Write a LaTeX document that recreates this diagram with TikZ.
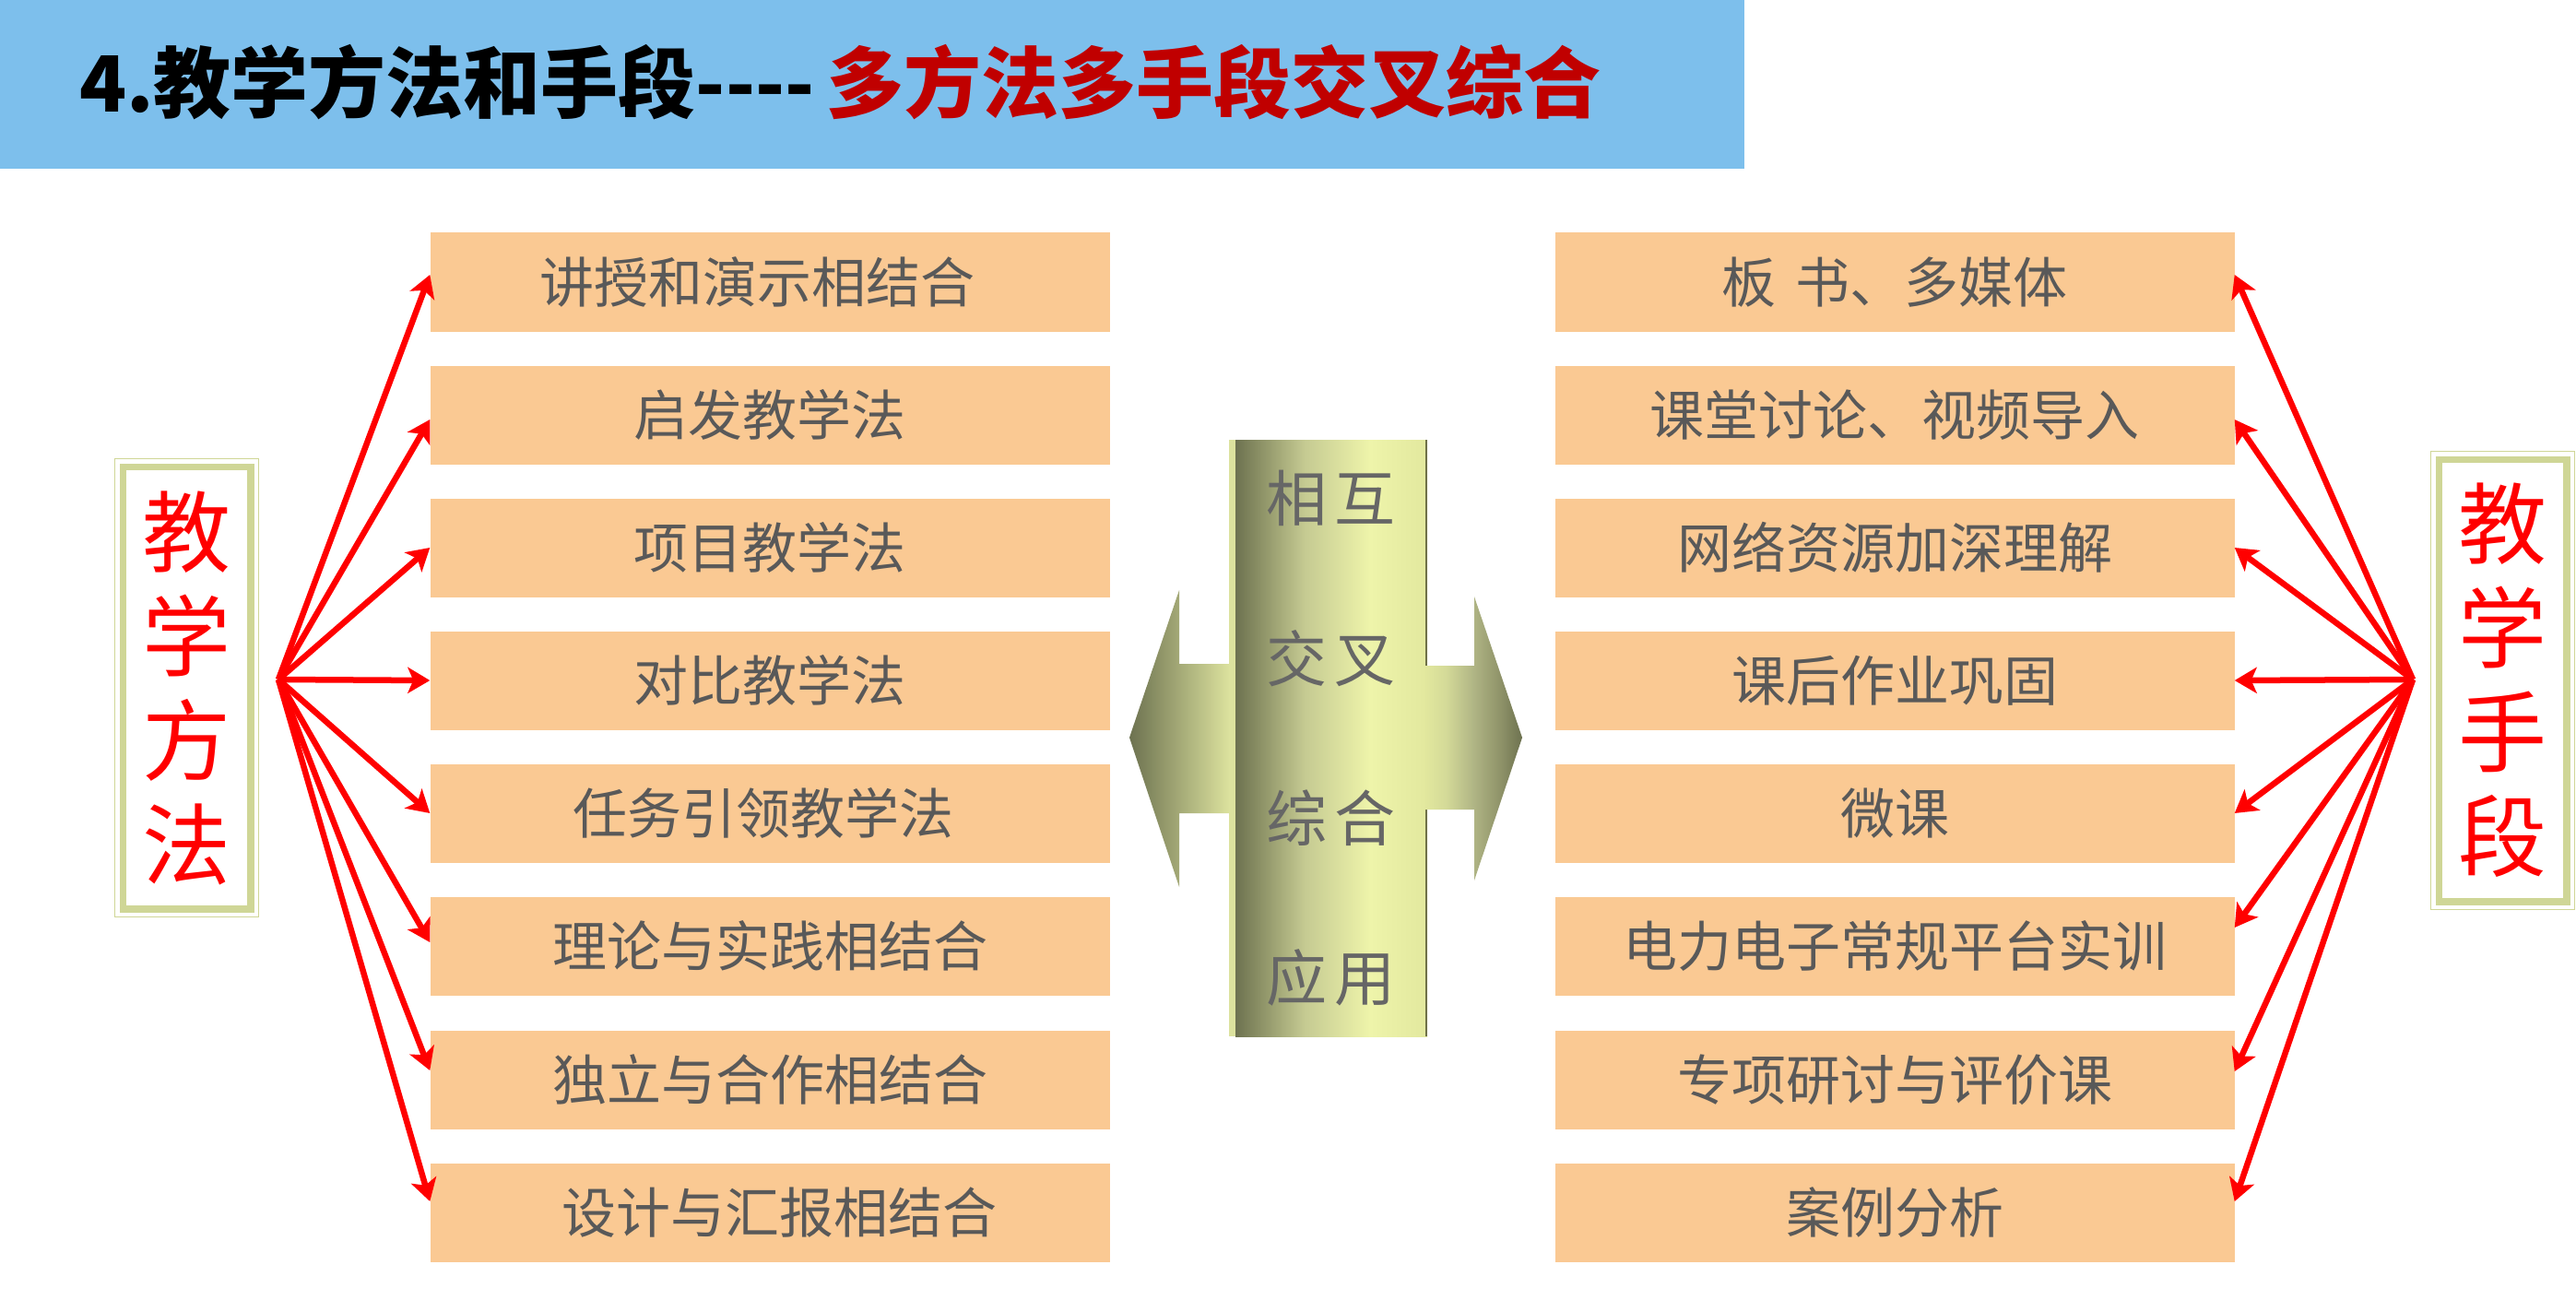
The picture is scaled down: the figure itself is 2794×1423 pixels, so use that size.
\documentclass[tikz,border=0pt]{standalone}
\usepackage{fontspec}
\setmainfont{Noto Sans CJK SC}
\usetikzlibrary{arrows.meta}
\definecolor{titlebar}{HTML}{7DBFEC}
\definecolor{titlered}{HTML}{C00000}
\definecolor{boxfill}{HTML}{FAC993}
\definecolor{boxtext}{HTML}{595959}
\definecolor{framec}{HTML}{CFD696}
\definecolor{oliveD}{HTML}{6D7250}
\definecolor{oliveM}{HTML}{A9AE7E}
\definecolor{oliveA}{HTML}{8F9468}
\definecolor{oliveB}{HTML}{C5CA92}
\definecolor{oliveL}{HTML}{EEF4AA}
\definecolor{oliveR}{HTML}{E2E89E}
\definecolor{oliveS}{HTML}{DCE29E}
\definecolor{oliveC}{HTML}{D4DA98}
\definecolor{oliveE}{HTML}{B0B585}
\definecolor{oliveF}{HTML}{8E9268}
\definecolor{colline}{HTML}{6E7048}
\definecolor{coltext}{HTML}{666666}
\pgfdeclarehorizontalshading{colshade}{100bp}{color(0bp)=(oliveD); color(25bp)=(oliveD); color(32bp)=(oliveA); color(43bp)=(oliveB); color(60bp)=(oliveL); color(75bp)=(oliveR); color(100bp)=(oliveR)}
\pgfdeclarehorizontalshading{rarrshade}{100bp}{color(0bp)=(oliveR); color(25bp)=(oliveR); color(36bp)=(oliveC); color(50bp)=(oliveE); color(64bp)=(oliveF); color(75bp)=(oliveD); color(100bp)=(oliveD)}
\tikzset{
  itembox/.style={fill=boxfill, minimum width=737, minimum height=107, inner sep=0pt,
    text=boxtext, font=\fontsize{59}{70}\selectfont, text height=48pt, text depth=4pt},
  labelbox/.style={draw=framec, line width=1.5, fill=white, minimum width=156, minimum height=497,
    inner sep=0pt, text=red, align=center, font=\fontsize{96}{113}\selectfont},
  fan/.style={draw=red, line width=6.5, -{Stealth[length=24pt,width=28pt,inset=6pt]}},
  coltxt/.style={text=coltext, font=\fontsize{66}{70}\selectfont, inner sep=0pt},
}
\begin{document}
\begin{tikzpicture}[x=1pt,y=-1pt]
\useasboundingbox (0,0) rectangle (2794,1423);
\fill[white] (0,0) rectangle (2794,1423);
% title
\fill[titlebar] (0,0) rectangle (1892,183);
\node[anchor=base west, inner sep=0pt, font=\fontsize{84}{84}\bfseries\selectfont] (T1) at (86,122) {4.教学方法和手段-{}-{}-{}-};
\node[anchor=base west, inner sep=0pt, text=titlered, font=\fontsize{84}{84}\bfseries\selectfont] (T2) at (896,122) {多方法多手段交叉综合};
% left boxes
\node[itembox] (L1) at (835,306) {\hspace*{-28pt}讲授和演示相结合};
\node[itembox] (L2) at (835,450) {启发教学法};
\node[itembox] (L3) at (835,594) {项目教学法};
\node[itembox] (L4) at (835,738) {对比教学法};
\node[itembox] (L5) at (835,882) {\hspace*{-14pt}任务引领教学法};
\node[itembox] (L6) at (835,1026) {理论与实践相结合};
\node[itembox] (L7) at (835,1171) {独立与合作相结合};
\node[itembox] (L8) at (835,1315) {\hspace*{20pt}设计与汇报相结合};
% right boxes
\node[itembox] (R1) at (2055,306) {板\hspace{21pt}书、多媒体};
\node[itembox] (R2) at (2055,450) {课堂讨论、视频导入};
\node[itembox] (R3) at (2055,594) {网络资源加深理解};
\node[itembox] (R4) at (2055,738) {课后作业巩固};
\node[itembox] (R5) at (2055,882) {微课};
\node[itembox] (R6) at (2055,1026) {电力电子常规平台实训};
\node[itembox] (R7) at (2055,1171) {专项研讨与评价课};
\node[itembox] (R8) at (2055,1315) {案例分析};
% label boxes
\node[labelbox] (LM) at (202.5,746) {教\\学\\方\\法};
\draw[framec, line width=7.5] ([shift={(9.5,9.5)}]LM.north west) rectangle ([shift={(-9.5,-9.5)}]LM.south east);
\node[labelbox] (RM) at (2714.5,738) {教\\学\\手\\段};
\draw[framec, line width=7.5] ([shift={(9.5,9.5)}]RM.north west) rectangle ([shift={(-9.5,-9.5)}]RM.south east);
% fans
\coordinate (LF) at (302,737);
\coordinate (RF) at (2617,737);
\draw[fan] (LF) -- ([yshift=8pt]L1.west);
\draw[fan] (LF) -- ([yshift=-5pt]L2.west);
\draw[fan] (LF) -- (L3.west);
\draw[fan] (LF) -- (L4.west);
\draw[fan] (LF) -- (L5.west);
\draw[fan] (LF) -- ([yshift=4pt]L6.west);
\draw[fan] (LF) -- ([yshift=10pt]L7.west);
\draw[fan] (LF) -- ([yshift=12pt]L8.west);
\draw[fan] (RF) -- ([yshift=8pt]R1.east);
\draw[fan] (RF) -- ([yshift=-5pt]R2.east);
\draw[fan] (RF) -- (R3.east);
\draw[fan] (RF) -- (R4.east);
\draw[fan] (RF) -- (R5.east);
\draw[fan] (RF) -- ([yshift=20pt]R6.east);
\draw[fan] (RF) -- ([yshift=9pt]R7.east);
\draw[fan] (RF) -- ([yshift=12pt]R8.east);
% centre double arrow and column
\shade[left color=oliveD, middle color=oliveM, right color=oliveS]
  (1334,720) -- (1279,720) -- (1279,640) -- (1225,800) -- (1279,962) -- (1279,882) -- (1334,882) -- cycle;
\fill[oliveS] (1333,477) rectangle (1548,1124);
\shade[shading=colshade] (1340,477) rectangle (1548,1124);
\draw[colline, line width=2.5] (1547,477) -- (1547,1124);
\shade[shading=rarrshade]
  (1545,722) -- (1599,722) -- (1599,647) -- (1651,800) -- (1599,955) -- (1599,878) -- (1545,878) -- cycle;
\node[coltxt] (C1) at (1443,540) {相\hspace{8pt}互};
\node[coltxt] (C2) at (1443,714) {交\hspace{8pt}叉};
\node[coltxt] (C3) at (1443,887) {综\hspace{8pt}合};
\node[coltxt] (C4) at (1443,1060) {应\hspace{8pt}用};
\end{tikzpicture}
\end{document}
